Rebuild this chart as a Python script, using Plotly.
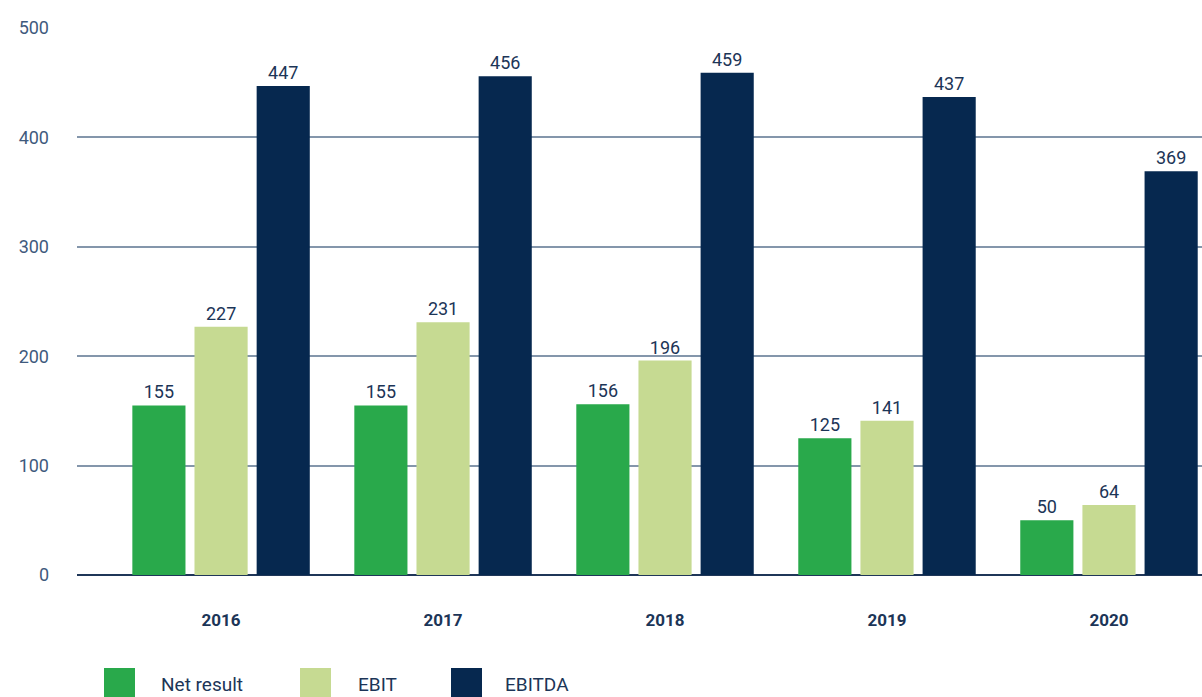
import plotly.graph_objects as go

years = ["2016", "2017", "2018", "2019", "2020"]
net_result = [155, 155, 156, 125, 50]
ebit = [227, 231, 196, 141, 64]
ebitda = [447, 456, 459, 437, 369]
series_names = ["Net result", "EBIT", "EBITDA"]
colors = ["#29a94b", "#c6da92", "#06284f"]
y_ticks = [0, 100, 200, 300, 400, 500]

FONT = "Roboto"
TXT = "#1c3557"

fig = go.Figure()
for name, vals, col in zip(series_names, [net_result, ebit, ebitda], colors):
    fig.add_trace(go.Bar(
        x=years, y=vals, name=name, marker=dict(color=col, line=dict(width=0)),
        text=[str(v) for v in vals], textposition="outside",
        textfont=dict(family=FONT, size=18, color=TXT), cliponaxis=False,
        showlegend=False,
    ))

# manual legend (large square swatches)
L = 77.0
W = 1125.0
H = 547.0
def px(x):
    return (x - L) / W
def py(y):
    return (575 - y) / H

sw_x = [104, 300, 451]
tx_x = [159, 356, 503]
for name, col, sx, tx in zip(series_names, colors, sw_x, tx_x):
    fig.add_shape(type="rect", xref="paper", yref="paper",
                  x0=px(sx), x1=px(sx + 31), y0=py(698), y1=py(668),
                  fillcolor=col, line=dict(width=0), layer="above")
    fig.add_annotation(xref="paper", yref="paper", x=px(tx), y=py(684),
                       text=name, showarrow=False, xanchor="left", yanchor="middle",
                       font=dict(family=FONT, size=19, color=TXT))

fig.update_layout(
    width=1202, height=697,
    margin=dict(l=77, r=0, t=28, b=122),
    paper_bgcolor="white", plot_bgcolor="white",
    barmode="group", bargap=0.16, bargroupgap=0.145,
    showlegend=False,
    xaxis=dict(type="category", range=[-0.649, 4.419], showgrid=False,
               showline=False, ticks="", ticklabelstandoff=33,
               tickfont=dict(family=FONT, size=17, color=TXT, weight="bold")),
    yaxis=dict(range=[0, 500], tickvals=y_ticks, showgrid=True,
               gridcolor="#8496ab", gridwidth=1.5, zeroline=True,
               zerolinecolor="#1f3658", zerolinewidth=1.5, showline=False,
               ticks="", ticklabelstandoff=27,
               tickfont=dict(family=FONT, size=18, color="#3f5a7d")),
)

fig.write_html("out.html", config={"displayModeBar": False},
               post_script="document.body.style.margin='0';document.body.style.overflow='hidden';")
